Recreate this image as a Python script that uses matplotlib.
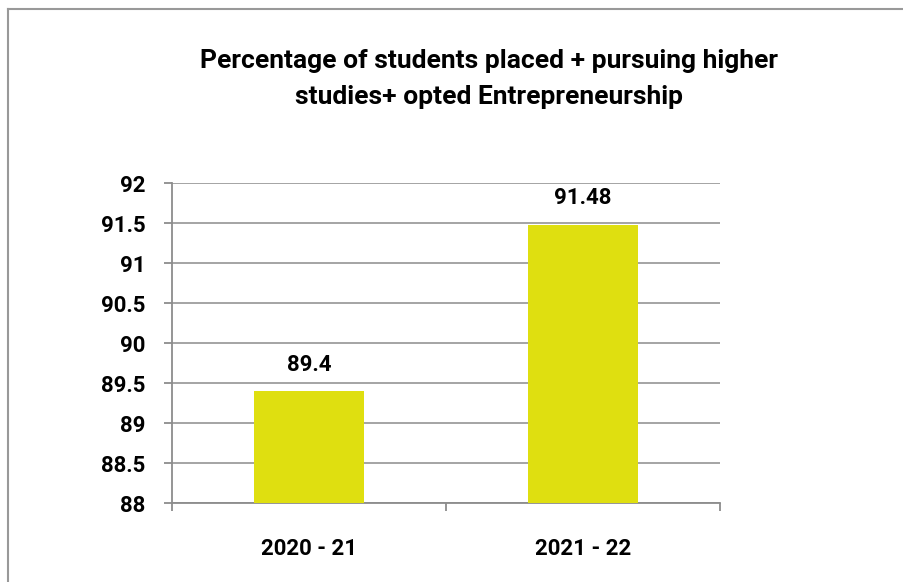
import matplotlib
matplotlib.use("Agg")
import matplotlib.pyplot as plt
from matplotlib.lines import Line2D

categories = ["2020 - 21", "2021 - 22"]
values = [89.4, 91.48]
yticks = [88, 88.5, 89, 89.5, 90, 90.5, 91, 91.5, 92]
ytick_labels = ["88", "88.5", "89", "89.5", "90", "90.5", "91", "91.5", "92"]
title = "Percentage of students placed + pursuing higher\nstudies+ opted Entrepreneurship"

plt.rcParams['font.family'] = ['Roboto', 'DejaVu Sans']
plt.rcParams['font.weight'] = 'bold'

fig = plt.figure(figsize=(9.04, 5.82), dpi=100)
ax = fig.add_axes([172/904, 1-503/582, (720-172)/904, (503-183)/582])

grid_c = '#8c8c8c'
x = list(range(len(categories)))
bars = ax.bar(x, [v - 88 for v in values], bottom=88, width=0.4, color='#dfdf10', zorder=3)
ax.set_xlim(-0.5, 1.5)
ax.set_ylim(88, 92)
ax.set_yticks(yticks)
ax.set_yticklabels(ytick_labels)
ax.yaxis.grid(True, color=grid_c, linewidth=1.1, zorder=0)
ax.set_axisbelow(True)
for s in ['top', 'right']:
    ax.spines[s].set_visible(False)
for s in ['left', 'bottom']:
    ax.spines[s].set_color(grid_c)
    ax.spines[s].set_linewidth(1.3)

ax.set_xticks([-0.5, 0.5, 1.5], minor=False)
ax.set_xticklabels(['', '', ''])
ax.set_xticks(x, minor=True)
ax.set_xticklabels(categories, minor=True, fontsize=16, fontweight='bold')
ax.tick_params(axis='x', which='major', length=6, width=1.3, color=grid_c)
ax.tick_params(axis='x', which='minor', length=0, pad=25)
ax.tick_params(axis='y', length=6, width=1.3, color=grid_c, pad=13, labelsize=16)

for xi, v in zip(x, values):
    ax.annotate(f"{v:g}", (xi, v), xytext=(0, 19), textcoords='offset points',
                ha='center', va='center', fontsize=16, fontweight='bold')

fig.text(489/904, 1-79/582, title, ha='center', va='center', fontsize=19,
         fontweight='bold', linespacing=1.6)

fig.add_artist(Line2D([8/904, 8/904], [0, 1-9/582], transform=fig.transFigure, color='#999999', linewidth=1.5))
fig.add_artist(Line2D([8/904, 1], [1-9/582, 1-9/582], transform=fig.transFigure, color='#999999', linewidth=1.5))

fig.savefig("out.png", dpi=100)
